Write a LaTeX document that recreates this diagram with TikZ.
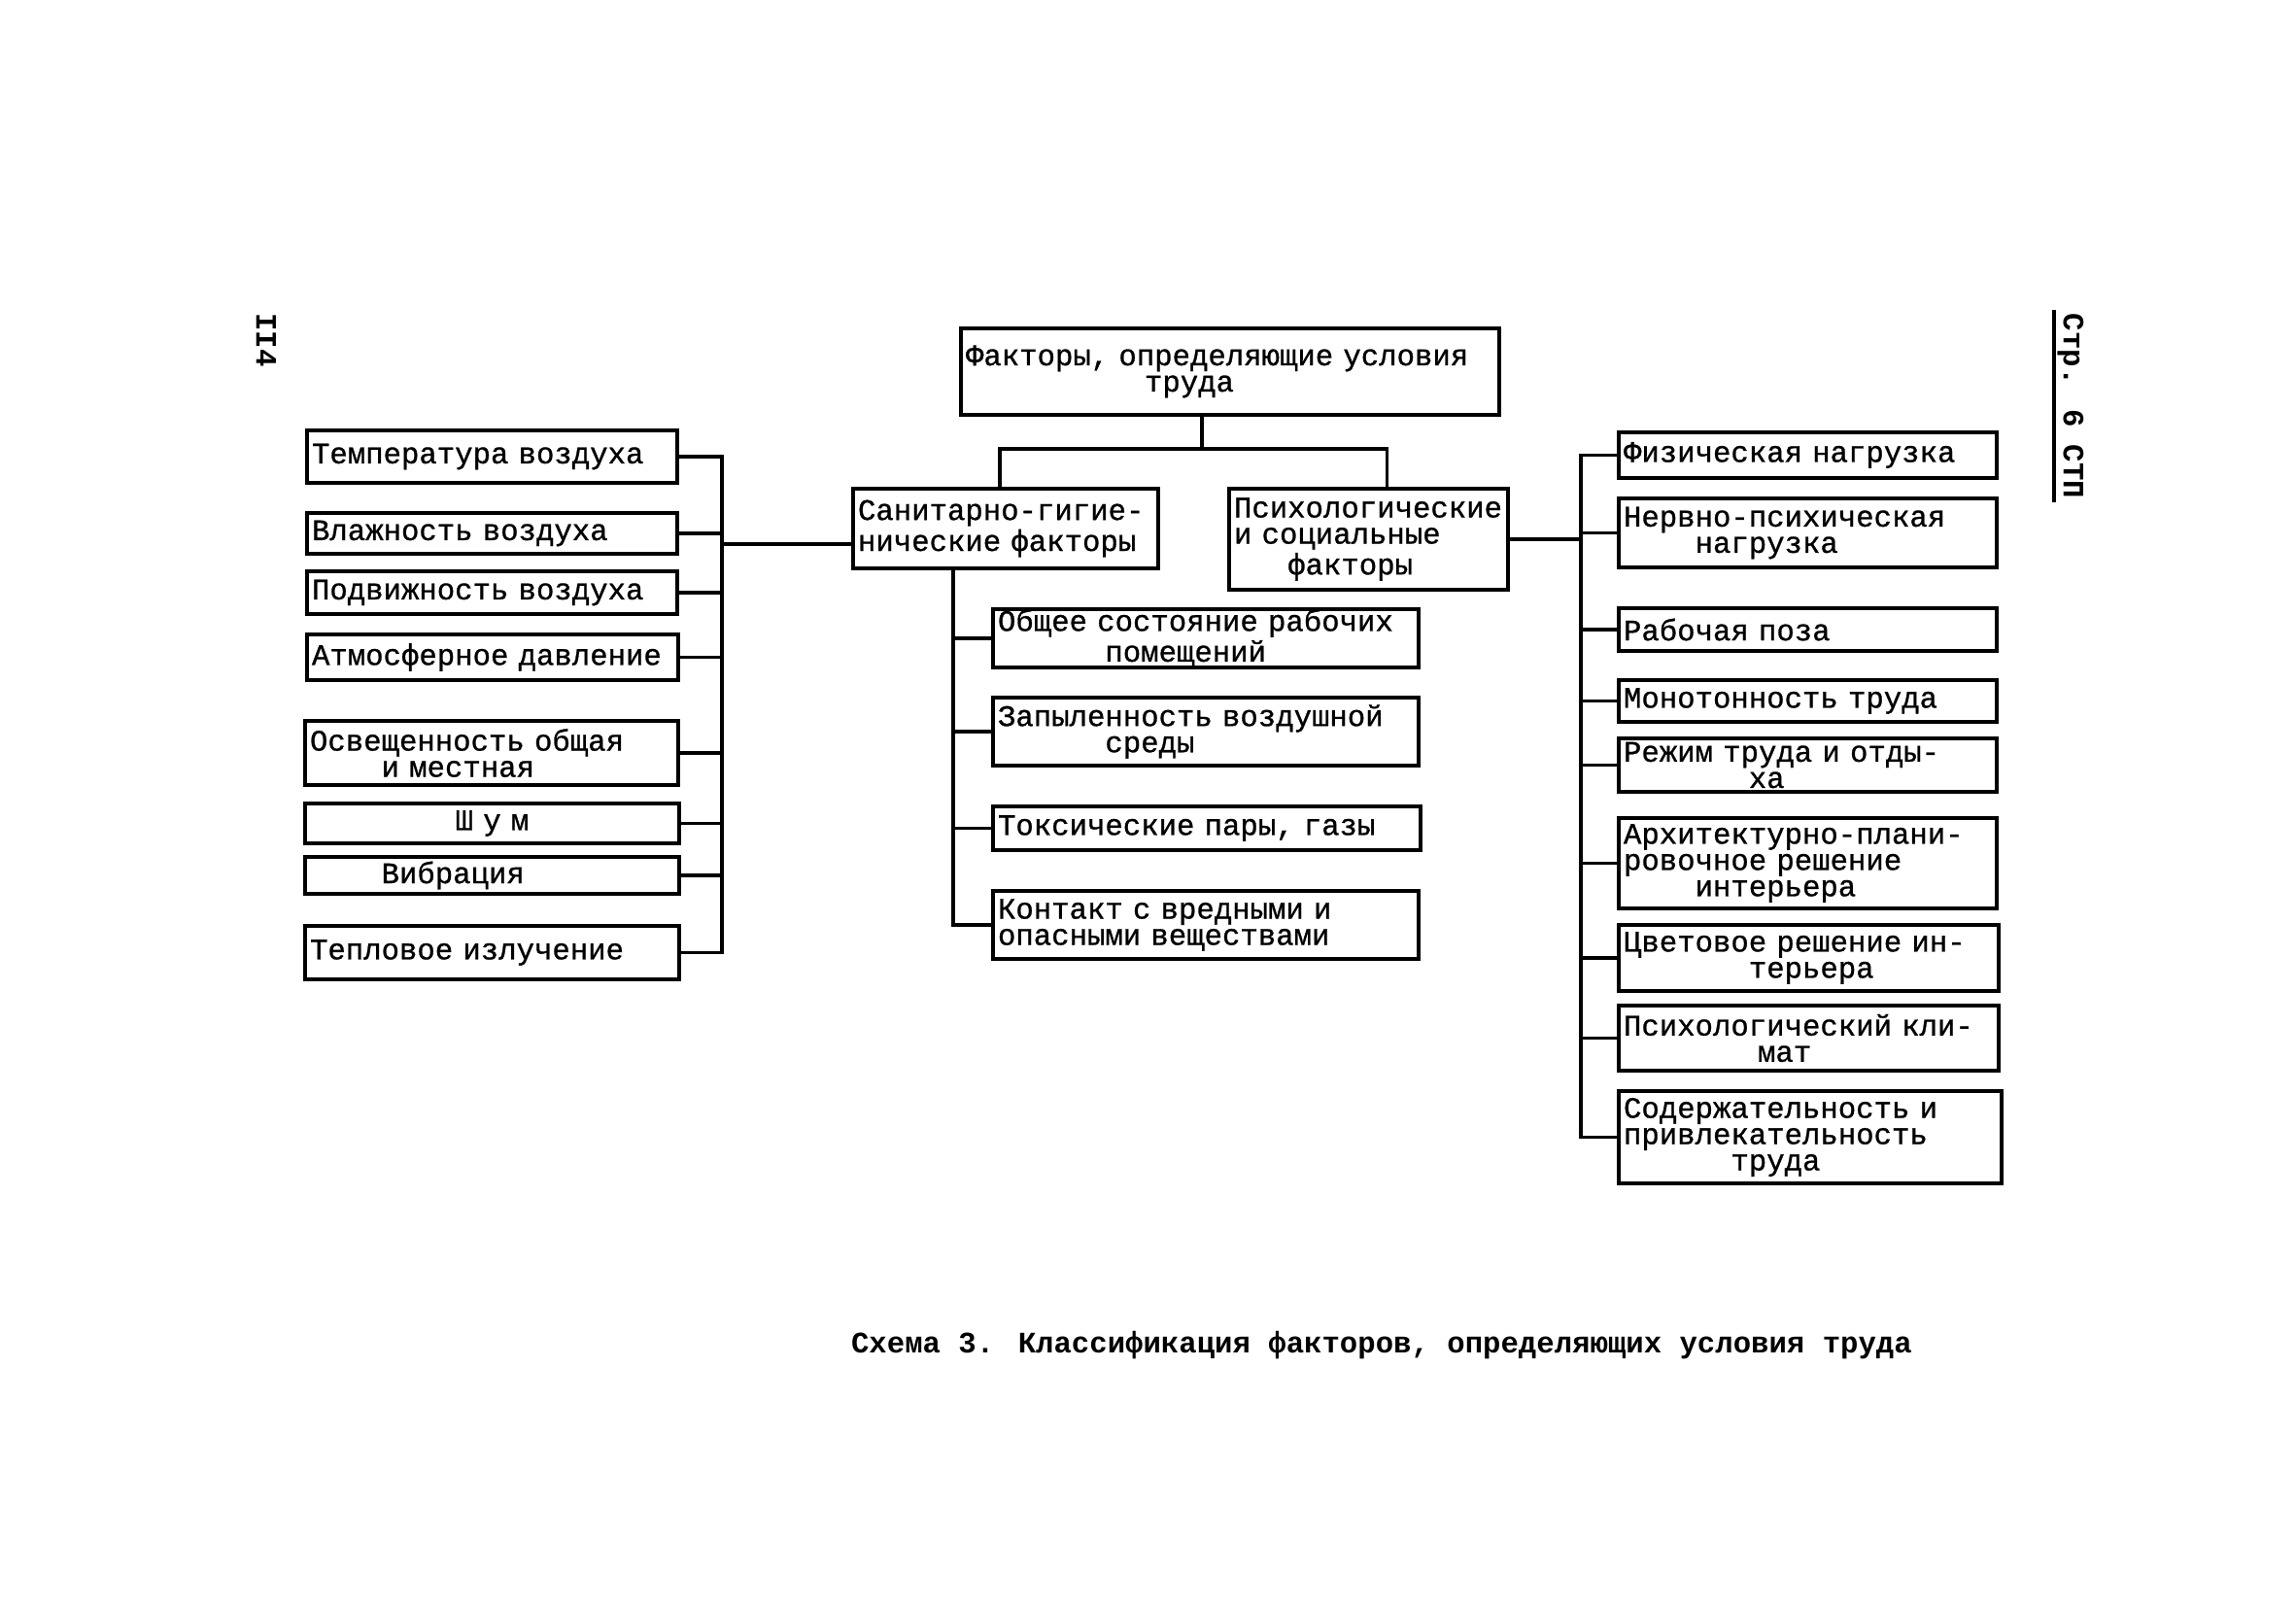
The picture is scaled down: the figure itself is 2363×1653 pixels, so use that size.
\documentclass[tikz,border=0pt]{standalone}
\usepackage{fontspec}
\setmainfont{Liberation Mono}[FakeBold=0.9]
\newfontfamily\capfont{Liberation Mono Bold}
\newcommand\fs{\fontsize{9.2}{8.1}\selectfont\hyphenpenalty=10000\exhyphenpenalty=10000}
\newcommand\ind[1]{\hspace*{#1\dimexpr0.6em\relax}}
\tikzset{
  box/.style={draw, line width=1pt, inner sep=0pt, font=\fs},
  conn/.style={line width=1.1pt},
  lbl/.style={font=\fs\capfont, inner sep=1pt}
}
\newcommand\factbox[7]{%
  \pgfmathsetmacro\bw{(#4-#2)*0.3}%
  \pgfmathsetmacro\bh{(#5-#3)*0.3}%
  \pgfmathsetmacro\tw{(#4-#2)*0.3-3}%
  \node[box, align=#6, minimum width=\bw pt, minimum height=\bh pt, text width=\tw pt] (#1) at ({(#2+#4)/2},{(#3+#5)/2}) {#7};%
}
\begin{document}
\begin{tikzpicture}[x=0.3pt, y=-0.3pt]
\useasboundingbox (0,0) rectangle (2363,1653);
% top
\factbox{T}{989}{338}{1543}{427}{left}{Факторы, определяющие условия\\\ind{10}труда}
\factbox{S}{878}{503}{1192}{585}{left}{Санитарно-гигие-\\нические факторы}
\factbox{P}{1265}{503}{1552}{607}{left}{Психологические\\и социальные\\\ind{3}факторы}
% left
\factbox{L1}{316}{443}{697}{497}{left}{Температура воздуха}
\factbox{L2}{316}{528}{697}{570}{left}{Влажность воздуха}
\factbox{L3}{316}{588}{697}{632}{left}{Подвижность воздуха}
\factbox{L4}{316}{653}{698}{700}{left}{Атмосферное давление}
\factbox{L5}{314}{742}{698}{808}{left}{Освещенность общая\\\ind{4}и местная}
\factbox{L6}{314}{827}{699}{868}{center}{Ш у м}
\factbox{L7}{314}{882}{699}{920}{left}{\ind{4}Вибрация}
\factbox{L8}{314}{953}{699}{1008}{left}{Тепловое излучение}
% centre
\factbox{C1}{1022}{627}{1460}{687}{left}{Общее состояние рабочих\\\ind{6}помещений}
\factbox{C2}{1022}{718}{1460}{788}{left}{Запыленность воздушной\\\ind{6}среды}
\factbox{C3}{1022}{830}{1462}{875}{left}{Токсические пары, газы}
\factbox{C4}{1022}{917}{1460}{987}{left}{Контакт с вредными и\\опасными веществами}
% right
\factbox{R1}{1666}{445}{2055}{492}{left}{Физическая нагрузка}
\factbox{R2}{1666}{513}{2055}{584}{left}{Нервно-психическая\\\ind{4}нагрузка}
\factbox{R3}{1666}{626}{2055}{670}{left}{Рабочая поза}
\factbox{R4}{1666}{700}{2055}{743}{left}{Монотонность труда}
\factbox{R5}{1666}{760}{2055}{815}{left}{Режим труда и отды-\\\ind{7}ха}
\factbox{R6}{1666}{842}{2055}{935}{left}{Архитектурно-плани-\\ровочное решение\\\ind{4}интерьера}
\factbox{R7}{1666}{952}{2057}{1020}{left}{Цветовое решение ин-\\\ind{7}терьера}
\factbox{R8}{1666}{1035}{2057}{1102}{left}{Психологический кли-\\\ind{7.5}мат}
\factbox{R9}{1666}{1123}{2060}{1218}{left}{Содержательность и\\привлекательность\\\ind{6}труда}
% bus coordinates
\coordinate (lbus) at (743,0);
\coordinate (sbus) at (981,0);
\coordinate (rbus) at (1627,0);
\coordinate (j) at (1237,462);
% top tree
\draw[conn] (j |- T.south) -- (j);
\draw[conn] ([xshift=-1.8pt]S.north) |- (j) -| ([xshift=5.7pt]P.north);
% left bus
\draw[conn] (L1.east) -- (L1.east -| lbus) -- (L8.east -| lbus) -- (L8.east);
\foreach \n in {L2,L3,L4,L5,L6,L7}{\draw[conn] (\n.east) -- (\n.east -| lbus);}
\coordinate (sl) at ([yshift=-4.8pt]S.west);
\draw[conn] (sl) -- (sl -| lbus);
% sanitary sub-bus
\draw[conn] (sbus |- S.south) -- (sbus |- C4.west) -- (C4.west);
\foreach \n in {C1,C2,C3}{\draw[conn] (\n.west) -- (\n.west -| sbus);}
% right bus
\draw[conn] (P.east) -- (P.east -| rbus);
\draw[conn] (R1.west) -- (R1.west -| rbus) -- (R9.west -| rbus) -- (R9.west);
\foreach \n in {R2,R3,R4,R5,R6,R7,R8}{\draw[conn] (\n.west) -- (\n.west -| rbus);}
% page marks
\node[lbl, rotate=-90] (pg) at (274,350) {II4};
\node[lbl, rotate=-90] (stp) at (2131,418) {Стр. 6 СТП};
\draw[line width=1.2pt] (stp.south west) -- (stp.south east);
% caption
\node[lbl] (cap) at (1422,1385) {Схема 3. Классификация факторов, определяющих условия труда};
\end{tikzpicture}
\end{document}
